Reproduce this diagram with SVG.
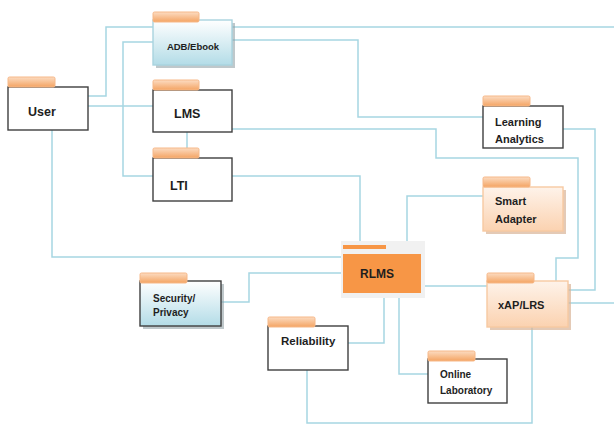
<svg xmlns="http://www.w3.org/2000/svg" width="614" height="425" viewBox="0 0 614 425">
<defs>
<linearGradient id="gBlue" x1="0" y1="0" x2="0" y2="1"><stop offset="0" stop-color="#ffffff"/><stop offset="1" stop-color="#b3dce7"/></linearGradient>
<linearGradient id="gPeach" x1="0" y1="0" x2="0" y2="1"><stop offset="0" stop-color="#fef3ea"/><stop offset="1" stop-color="#fbd2b0"/></linearGradient>
<linearGradient id="gTab" x1="0" y1="0" x2="0" y2="1"><stop offset="0" stop-color="#fcdcc2"/><stop offset="1" stop-color="#f4a463"/></linearGradient>
</defs>
<style>
.c{fill:none;stroke:#a6d6e2;stroke-width:1.5}
.box{fill:#ffffff;stroke:#3f3f3f;stroke-width:1.4}
.blue{fill:url(#gBlue)}
.peach{fill:url(#gPeach);stroke:#f7c9a2;stroke-width:1.4}
.tab{fill:url(#gTab);stroke:#f6b888;stroke-width:1}
.sh{fill:#8a9aa0;opacity:0.55}
.shp{fill:#d9b397;opacity:0.7}
text{font-family:"Liberation Sans",Arial,sans-serif;font-weight:bold;fill:#1e1e1e}
</style>
<g id="connectors">
<path class="c" d="M88,96 H106 V27 H153"/>
<path class="c" d="M88,106 H153"/>
<path class="c" d="M153,42 H123 V176 H153"/>
<path class="c" d="M187,132 V148"/>
<path class="c" d="M232,27 H614"/>
<path class="c" d="M232,40 H358 V117 H483"/>
<path class="c" d="M232,129 H436 V158 H578 V258 H556 V281"/>
<path class="c" d="M232,176 H360 V243"/>
<path class="c" d="M52,130 V257 H343"/>
<path class="c" d="M563,129 H595 V290 H568"/>
<path class="c" d="M483,196 H407 V254"/>
<path class="c" d="M568,303 H614"/>
<path class="c" d="M421,286 H487"/>
<path class="c" d="M384,293 V343 H348"/>
<path class="c" d="M399,293 V374 H428"/>
<path class="c" d="M307,370 V423 H532 V327"/>
<path class="c" d="M221,302 H249 V273 H343"/>
</g>
<g id="adb">
<rect class="sh" x="156" y="23" width="79" height="45"/>
<rect x="153" y="20" width="79" height="45" fill="url(#gBlue)" stroke="#a9d3df" stroke-width="1.4"/>
<rect class="tab" x="153" y="12" width="46" height="10" rx="1.5"/>
<text x="193" y="50" font-size="9.5" text-anchor="middle">ADB/Ebook</text>
</g>
<g id="user">
<rect class="box" x="8" y="87" width="80" height="43"/>
<rect class="tab" x="8" y="77" width="47" height="10" rx="1.5"/>
<text x="28" y="116" font-size="12.5">User</text>
</g>
<g id="lms">
<rect class="box" x="153" y="90" width="79" height="42"/>
<rect class="tab" x="153" y="80" width="46" height="10" rx="1.5"/>
<text x="174" y="118" font-size="12.5">LMS</text>
</g>
<g id="lti">
<rect class="box" x="153" y="158" width="79" height="43"/>
<rect class="tab" x="153" y="148" width="46" height="10" rx="1.5"/>
<text x="170" y="190" font-size="12.5">LTI</text>
</g>
<g id="learning-analytics">
<rect class="box" x="483" y="106" width="80" height="42"/>
<rect class="tab" x="483" y="96" width="47" height="10" rx="1.5"/>
<text x="495" y="126" font-size="11">Learning</text>
<text x="495" y="143" font-size="11">Analytics</text>
</g>
<g id="smart-adapter">
<rect class="shp" x="486" y="190" width="80" height="44"/>
<rect class="peach" x="483" y="187" width="80" height="44"/>
<rect class="tab" x="483" y="177" width="47" height="10" rx="1.5"/>
<text x="495" y="205" font-size="11">Smart</text>
<text x="495" y="223" font-size="11">Adapter</text>
</g>
<g id="rlms">
<rect x="341" y="241" width="84" height="57" fill="#f1f1f1"/>
<rect x="343" y="254" width="78" height="39" fill="#f79646"/>
<rect x="343" y="245" width="43" height="4" fill="#f79646"/>
<text x="360" y="278" font-size="12">RLMS</text>
</g>
<g id="xap-lrs">
<rect class="shp" x="490" y="284" width="81" height="46"/>
<rect class="peach" x="487" y="281" width="81" height="46"/>
<rect class="tab" x="487" y="273" width="47" height="10" rx="1.5"/>
<text x="498" y="309" font-size="11">xAP/LRS</text>
</g>
<g id="security-privacy">
<rect class="sh" x="143" y="284" width="81" height="45"/>
<rect x="140" y="281" width="81" height="45" fill="url(#gBlue)" stroke="#3f3f3f" stroke-width="1.4"/>
<rect class="tab" x="140" y="273" width="47" height="10" rx="1.5"/>
<text x="153" y="302" font-size="10">Security/</text>
<text x="153" y="316" font-size="10">Privacy</text>
</g>
<g id="reliability">
<rect class="box" x="268" y="326" width="80" height="44"/>
<rect class="tab" x="268" y="317" width="47" height="10" rx="1.5"/>
<text x="281" y="345" font-size="11.5">Reliability</text>
</g>
<g id="online-laboratory">
<rect class="box" x="428" y="359" width="79" height="44"/>
<rect class="tab" x="428" y="351" width="47" height="10" rx="1.5"/>
<text x="440" y="378" font-size="10">Online</text>
<text x="440" y="394" font-size="10">Laboratory</text>
</g>
</svg>
